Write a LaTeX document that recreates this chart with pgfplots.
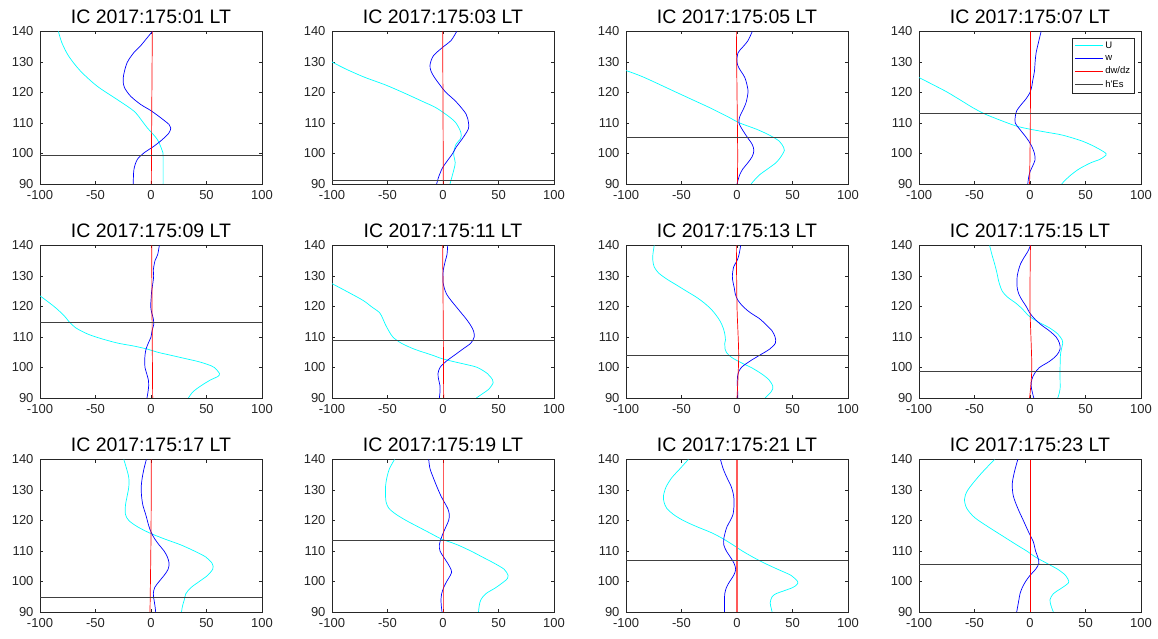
\documentclass[border=0pt]{standalone}
\usepackage{fontspec}
\setmainfont{Liberation Sans}
\usepackage{pgfplots}
\pgfplotsset{compat=1.18}
\definecolor{axgray}{rgb}{0.15,0.15,0.15}
\definecolor{ucyan}{rgb}{0,1,1}
\definecolor{wblue}{rgb}{0,0,1}
\definecolor{dred}{rgb}{1,0,0}
\definecolor{lred}{rgb}{1,0.35,0.35}
\pgfplotsset{
 panel/.style={
  scale only axis, width=222pt, height=152.5pt,
  xmin=-100,xmax=100,ymin=90,ymax=140,
  xtick={-100,-50,0,50,100}, ytick={90,100,110,120,130,140},
  tick align=inside, major tick length=3pt,
  axis line style={axgray, line width=0.6pt},
  tick style={axgray, line width=0.6pt},
  ticklabel style={font=\fontsize{13}{13}\selectfont, text=axgray},
  xticklabel style={yshift=-2.5pt},
  yticklabel style={xshift=-3pt},
  /pgf/number format/assume math mode=true,
  title style={font=\fontsize{19.5}{20}\selectfont, yshift=-2pt},
  every axis plot/.append style={line width=0.7pt},
  anchor=south west,
 },
 uline/.style={ucyan, smooth},
 wline/.style={wblue, smooth},
 rline/.style={dred, smooth},
 hline/.style={black!75},
}
\begin{document}
\begin{tikzpicture}
\useasboundingbox (-40pt,-27pt) rectangle (1118pt,612pt);
% ---------- Row 1 ----------
\begin{axis}[panel, at={(0pt,428pt)}, title={IC 2017:175:01 LT}]
\addplot[uline] coordinates {(-83.4,140) (-80.4,136.4) (-74.3,132) (-63.7,127.1) (-48.6,122.1) (-30.5,117.7) (-15.4,113.9) (-7.9,110.6) (-3.3,108.4) (5.7,104.6) (10.3,100.7) (10.9,99.1) (10.9,90)};
\addplot[wline] coordinates {(1.2,140) (-3.3,138) (-9.4,135.3) (-15.4,133.1) (-21.5,129.8) (-24.5,126) (-25.1,123.8) (-23.9,121.6) (-18.4,118.8) (-9.4,116.1) (-0.3,114.1) (8.8,111.7) (16.3,109.5) (17.8,108.4) (16.3,106.8) (10.3,104.6) (2.7,102.4) (-6.3,100.2) (-12.4,98) (-15.4,94.7) (-16,90)};
\addplot[rline] coordinates {(0.3,90) (0.6,110) (1.2,140)};
\addplot[hline] coordinates {(-100,99.4) (100,99.4)};
\end{axis}
\begin{axis}[panel, at={(292pt,428pt)}, title={IC 2017:175:03 LT}]
\addplot[uline] coordinates {(-100,130) (-87,127.6) (-70.7,125) (-52,122.5) (-36,120) (-18,117) (-6.3,115) (5.7,112) (11.7,110) (16,107) (16,105) (11.7,103) (9.6,100) (11,97) (10,95) (7.8,92) (6.3,90)};
\addplot[wline] coordinates {(12.3,140) (7.2,137) (0.3,135) (-8.7,132) (-11.7,129) (-10.8,127) (-7.8,125) (-1.8,122) (2.7,120) (11.7,117) (20.7,113) (23,110) (22.8,108) (17.7,105) (11.7,102) (8.7,100) (2.7,97) (-0.9,95) (-4.2,92) (-5.7,90)};
\addplot[rline] coordinates {(0.3,90) (0,115) (-0.3,140)};
\addplot[hline] coordinates {(-100,91.2) (100,91.2)};
\end{axis}
\begin{axis}[panel, at={(586pt,428pt)}, title={IC 2017:175:05 LT}]
\addplot[uline] coordinates {(-100,127.2) (-84,125) (-54.3,120) (-36.4,117) (-24.5,115) (-8,112) (2.4,110) (17.3,108) (29.3,106) (38.2,104) (42,102) (42.7,101) (39.7,99) (35.2,97) (27.8,95) (20.3,93) (15,91) (12.8,90)};
\addplot[wline] coordinates {(13.7,140) (9.9,137) (5.4,135) (0.9,133) (0,130) (1.8,128) (6.9,125) (9.3,122) (9.9,120) (8.4,117) (6.3,115) (2.4,112) (1.8,110) (4.5,108) (9.9,105) (13.7,103) (15.2,101) (13.7,99) (9.9,97) (5.4,95) (2.4,93) (0,90)};
\addplot[rline] coordinates {(0.3,90) (0.6,100) (0,120) (-0.6,140)};
\addplot[hline] coordinates {(-100,105.2) (100,105.2)};
\end{axis}
\begin{axis}[panel, at={(879pt,428pt)}, title={IC 2017:175:07 LT},
  legend style={at={(0.97,0.96)}, anchor=north east, font=\fontsize{9.5}{10}\selectfont, draw=axgray, inner sep=2pt, row sep=1.2pt, cells={anchor=west}},
  legend image code/.code={\draw[#1] (0pt,0pt) -- (28pt,0pt);}]
\addplot[uline] coordinates {(-100,124.9) (-84.4,122) (-74,120) (-60.4,117) (-51.4,115) (-41,113) (-27.4,111) (-12.4,109) (-0.4,108) (14.5,107) (29.5,106) (47.5,104) (59.5,102) (68.5,100) (67,99) (62.5,98) (55,97) (44.5,95) (37,93) (31,91) (28.6,90)};
\addplot[wline] coordinates {(10,140) (8,137) (5.5,133) (4.6,130) (4,127) (2.5,124) (1.6,122) (0,120) (-3.4,118) (-8,116) (-12,114) (-13.3,112) (-13.3,110) (-9.4,108) (-5,106) (-1,104) (2,102) (4,100) (4.6,98) (2.5,96) (0,94) (-1.3,92) (-2,90)};
\addplot[rline] coordinates {(-0.4,90) (0.3,110) (0.4,140)};
\addplot[hline] coordinates {(-100,113.1) (100,113.1)};
\legend{U,w,dw/dz,h\textquotesingle Es}
\end{axis}
% ---------- Row 2 ----------
\begin{axis}[panel, at={(0pt,214pt)}, title={IC 2017:175:09 LT}]
\addplot[uline] coordinates {(-100,123.5) (-87.3,120) (-78.3,117) (-73.8,115) (-67.8,113) (-57.2,111) (-45.2,109.5) (-30,108) (-15,107) (-3,106) (6,105) (18,104) (30,103) (42,102) (51,101) (57,100) (61.7,98) (60,97) (54,96) (45,94) (37.7,92) (33.7,90)};
\addplot[wline] coordinates {(7.5,140) (6,137) (3.6,135) (2.1,132) (2.4,130) (1.8,128) (0.6,125) (0,122) (-0.3,120) (0.6,118) (2.1,116) (2.4,114) (0.9,112) (0,110) (-2.4,108) (-4.5,106) (-5.4,104) (-5.7,102) (-5.4,100) (-3.9,98) (-2.4,96) (-2.1,94) (-2.7,92) (-3.6,90)};
\addplot[rline] coordinates {(1.5,90) (1,115) (0.6,140)};
\addplot[hline] coordinates {(-100,114.8) (100,114.8)};
\end{axis}
\begin{axis}[panel, at={(292pt,214pt)}, title={IC 2017:175:11 LT}]
\addplot[uline] coordinates {(-100,127.5) (-87,125) (-72,122) (-64.7,120) (-57.2,118) (-54.2,116) (-51.8,114) (-48.8,112) (-45.2,110) (-37.7,108) (-25.7,106) (-9.3,104) (-1.8,103) (8.7,102) (20.7,101) (31,100) (40,98) (44.6,96) (45.2,95) (41.6,93) (34,91) (30,90)};
\addplot[wline] coordinates {(4.2,140) (3.6,137) (2.1,135) (0.3,132) (0,130) (0,128) (1.2,126) (3.3,124) (7.2,122) (11.7,120) (16.2,118) (20.7,116) (24.6,114) (27.5,112) (28.1,110) (25.1,108) (17.7,106) (10.2,104) (2.7,102) (-2.7,100) (-4.5,98) (-3.9,96) (-2.7,94) (-2.7,92) (-3.3,90)};
\addplot[rline] coordinates {(0.6,90) (0.3,110) (-0.3,140)};
\addplot[hline] coordinates {(-100,108.9) (100,108.9)};
\end{axis}
\begin{axis}[panel, at={(586pt,214pt)}, title={IC 2017:175:13 LT}]
\addplot[uline] coordinates {(-74.6,140) (-75.8,137) (-75.8,135) (-74.6,133) (-70.7,131) (-63.3,129) (-54.3,127) (-45.4,125) (-36.4,123) (-29,121) (-23,119) (-18.5,117) (-14.9,115) (-12.5,113) (-11,111) (-10.4,109) (-11,108) (-10.7,106) (-9.6,105) (-7.2,104) (-3.6,103) (1.5,102) (6.9,101) (12.8,100) (21.8,98) (28.7,96) (32.2,94) (32.2,93) (30.7,92) (25.4,90)};
\addplot[wline] coordinates {(3.3,140) (1.8,137) (0,135) (-3,133) (-4.2,130) (-3.6,128) (-2.4,126) (-1.5,124) (0.9,122) (5.4,120) (11.9,118) (20.3,116) (26.3,114) (31.6,112) (34.3,110) (34.6,108) (29.3,106) (20.3,104) (11.3,102) (3.9,100) (0.9,98) (0.3,96) (0.3,94) (0.6,92) (0.6,90)};
\addplot[rline] coordinates {(0,90) (1.5,104) (0,120) (-0.6,140)};
\addplot[hline] coordinates {(-100,104.1) (100,104.1)};
\end{axis}
\begin{axis}[panel, at={(879pt,214pt)}, title={IC 2017:175:15 LT}]
\addplot[uline] coordinates {(-36.4,140) (-34.3,137) (-31.9,134) (-29.8,131) (-28,128) (-25,125) (-20,123) (-12.4,121) (-6.4,119) (-1.3,117) (7,115) (17.5,113) (25,111) (29,109) (29.5,108) (28.3,106) (27.4,104) (27.1,100) (27.1,96) (27.1,93) (25.9,91) (25,90)};
\addplot[wline] coordinates {(0.4,140) (-2,138) (-5.5,136) (-8.5,134) (-10.3,132) (-11.5,130) (-11.8,128) (-11.5,126) (-10,124) (-7,122) (-3.4,120) (-0.4,118) (4,116) (10,114) (17.5,112) (23.5,110) (26.5,108) (27.1,106) (24,104) (17.5,102) (8.5,100) (4,98) (1.6,96) (1,94) (2,92) (3.4,90)};
\addplot[rline] coordinates {(-0.4,90) (1.6,100) (0,120) (0.4,140)};
\addplot[hline] coordinates {(-100,98.9) (100,98.9)};
\end{axis}
% ---------- Row 3 ----------
\begin{axis}[panel, at={(0pt,0pt)}, title={IC 2017:175:17 LT}]
\addplot[uline] coordinates {(-24.5,140) (-22,137) (-20,134) (-20,131) (-21.5,128) (-23,125) (-23,122) (-20,120) (-12.4,118) (-1.8,116) (11.8,114) (26.9,112) (39,110) (49.5,108) (55,106) (56,105) (55.6,104) (51,102) (43.5,100) (36,98) (31.4,96) (30,94) (28.4,92) (27.5,90)};
\addplot[wline] coordinates {(-4.2,140) (-6.3,137) (-7.9,134) (-8.8,131) (-8.5,128) (-7.3,125) (-4.8,122) (-3.3,120) (-1.8,118) (0.3,116) (3.3,114) (7.3,112) (11.8,110) (14.8,108) (16.3,106) (15.4,104) (11.8,102) (7.3,100) (3.3,98) (2.1,96) (2.7,94) (3.6,92) (4.2,90)};
\addplot[rline] coordinates {(-0.9,90) (0,115) (0.3,140)};
\addplot[hline] coordinates {(-100,94.8) (100,94.8)};
\end{axis}
\begin{axis}[panel, at={(292pt,0pt)}, title={IC 2017:175:19 LT}]
\addplot[uline] coordinates {(-43.7,140) (-48.2,137) (-50.6,134) (-51.8,131) (-51.8,128) (-51.2,126) (-48.8,124) (-42.2,122) (-33.2,120) (-22.8,118) (-12.3,116) (-1.8,114) (5.7,113) (13.2,112) (25.1,110) (35.6,108) (46.1,106) (55.1,104) (58.7,102) (58.1,101) (55.1,100) (47.6,98) (38.6,96) (34.1,94) (32.6,92) (32,90)};
\addplot[wline] coordinates {(-12.9,140) (-11.7,137) (-8.7,134) (-5.4,131) (-1.8,128) (1.2,126) (4.2,124) (5.7,122) (5.1,120) (2.7,118) (0.3,116) (-1.8,114) (-3.3,112) (-2.7,110) (0.6,108) (4.2,106) (7.2,104) (7.8,103) (6.6,102) (3.3,100) (0.6,98) (-1.2,96) (-1.8,94) (-1.5,92) (-0.9,90)};
\addplot[rline] coordinates {(0,90) (0,140)};
\addplot[hline] coordinates {(-100,113.6) (100,113.6)};
\end{axis}
\begin{axis}[panel, at={(586pt,0pt)}, title={IC 2017:175:21 LT}]
\addplot[uline] coordinates {(-43.9,140) (-51.3,137) (-58.8,134) (-63.9,131) (-66.3,128) (-65.7,126) (-63.3,124) (-57.3,122) (-48.4,120) (-36.4,118) (-23,116) (-12.5,114) (-3.6,112) (4.8,110) (14.3,108) (24.8,106) (36.7,104) (48.7,102) (54.6,100) (54,99) (50.1,98) (42.7,97) (35.2,96) (31.6,95) (29.9,93) (31,91) (31.6,90)};
\addplot[wline] coordinates {(-14.9,140) (-12.5,137) (-9,134) (-5.1,131) (-3,128) (-2.7,125) (-3.6,122) (-6,120) (-9,118) (-10.7,116) (-11.9,114) (-11.9,112) (-9.6,110) (-6,108) (-2.7,106) (-1.2,104) (-3,102) (-6.6,100) (-9.6,98) (-11,96) (-11.3,94) (-11.3,92) (-11.3,90)};
\addplot[color=lred, line width=1.3pt] coordinates {(0,90) (0,140)};
\addplot[hline] coordinates {(-100,106.8) (100,106.8)};
\end{axis}
\begin{axis}[panel, at={(879pt,0pt)}, title={IC 2017:175:23 LT}]
\addplot[uline] coordinates {(-32,140) (-45,135) (-56,130) (-59,127) (-57,124) (-50,121) (-38,118) (-25,115) (-12,112) (-3,110) (5,108) (15,106) (25,104) (32,102) (35,100) (33,99) (27,97.5) (21,96) (18,94) (19,92) (21,90)};
\addplot[wline] coordinates {(-11,140) (-14,136) (-16,132) (-15,128) (-11,124) (-6,120) (-1,116) (3,113) (5,110) (7,108) (8,106) (5,104) (0,102) (-4,100) (-7,98) (-9,96) (-10,94) (-11,92) (-12,90)};
\addplot[rline] coordinates {(0,90) (0,140)};
\addplot[hline] coordinates {(-100,105.5) (100,105.5)};
\end{axis}
\end{tikzpicture}
\end{document}
